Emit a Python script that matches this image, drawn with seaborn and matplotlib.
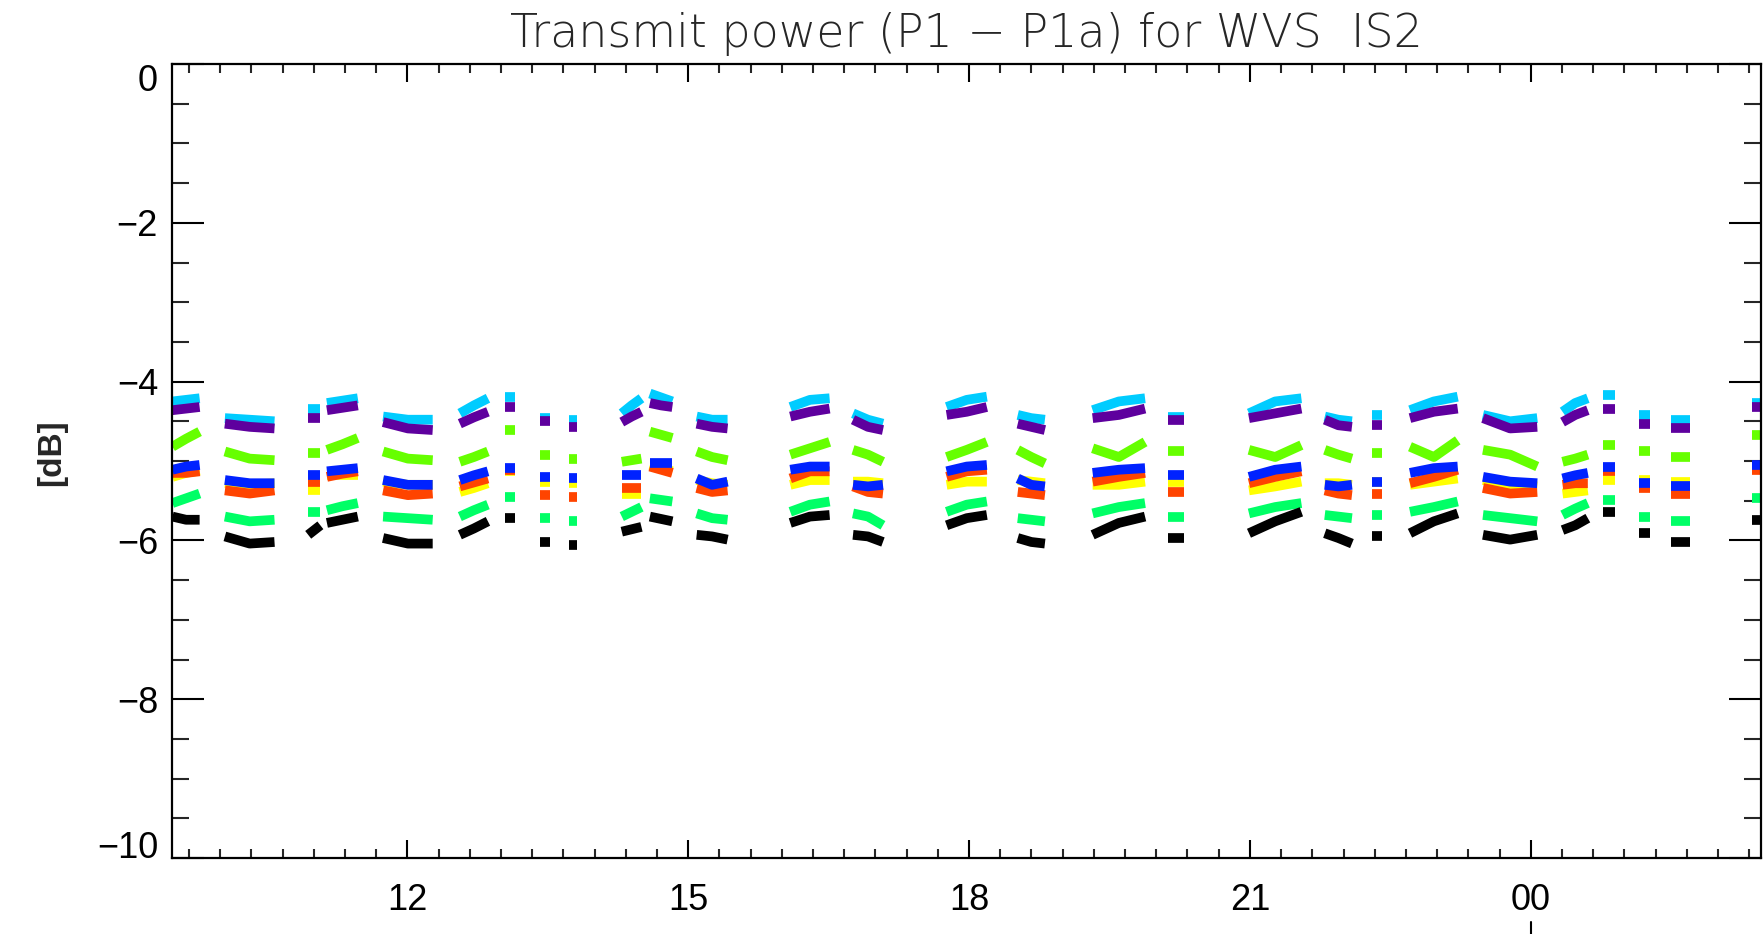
import numpy as np
import pandas as pd
import matplotlib
matplotlib.use("Agg")
import matplotlib.pyplot as plt
import matplotlib.transforms as mtransforms
from matplotlib.ticker import MultipleLocator
import seaborn as sns

# ---------------- data ----------------
title = "Transmit power (P1 \u2212 P1a) for WVS  IS2"
y_label = "[dB]"
x_tick_pos = [12, 15, 18, 21, 24]
x_tick_labels = ["12", "15", "18", "21", "00"]
y_tick_pos = [0, -2, -4, -6, -8, -10]
y_tick_labels = ["0", "\u22122", "\u22124", "\u22126", "\u22128", "\u221210"]

# segment start / end times (hours since 00 of first day)
seg_t0 = [9.49, 10.05, 10.94, 11.14, 11.74, 12.56, 13.04, 13.42, 13.73, 14.29,
          14.59, 15.09, 16.09, 16.76, 17.76, 18.52, 19.32, 20.12, 20.99, 21.80,
          22.30, 22.71, 23.49, 24.34, 24.77, 25.16, 25.50, 26.36]
seg_t1 = [9.78, 10.58, 11.07, 11.47, 12.27, 12.86, 13.15, 13.52, 13.81, 14.50,
          14.83, 15.42, 16.51, 17.08, 18.19, 18.81, 19.88, 20.30, 21.55, 22.09,
          22.41, 23.22, 24.07, 24.61, 24.90, 25.27, 25.70, 26.47]

cyan_vals = [[-4.25, -4.23, -4.21], [-4.46, -4.48, -4.50], [-4.34], [-4.27, -4.24, -4.21],
             [-4.44, -4.48, -4.48], [-4.40, -4.30, -4.21], [-4.19], [-4.46], [-4.48],
             [-4.40, -4.30, -4.21], [-4.15, -4.20, -4.25], [-4.44, -4.48, -4.48],
             [-4.32, -4.23, -4.21], [-4.40, -4.48, -4.53], [-4.32, -4.23, -4.19],
             [-4.42, -4.46, -4.48], [-4.36, -4.25, -4.21], [-4.44], [-4.40, -4.25, -4.21],
             [-4.44, -4.48, -4.50], [-4.42], [-4.36, -4.25, -4.19], [-4.42, -4.50, -4.46],
             [-4.38, -4.27, -4.21], [-4.17], [-4.42], [-4.48], [-4.27]]
purple_vals = [[-4.36, -4.34, -4.32], [-4.53, -4.57, -4.59], [-4.46], [-4.36, -4.33, -4.30],
               [-4.51, -4.59, -4.61], [-4.53, -4.45, -4.38], [-4.32], [-4.50], [-4.57],
               [-4.51, -4.44, -4.38], [-4.27, -4.30, -4.32], [-4.53, -4.57, -4.59],
               [-4.44, -4.38, -4.34], [-4.48, -4.57, -4.61], [-4.42, -4.38, -4.32],
               [-4.53, -4.57, -4.61], [-4.46, -4.42, -4.34], [-4.48], [-4.46, -4.40, -4.34],
               [-4.48, -4.55, -4.57], [-4.55], [-4.46, -4.38, -4.34], [-4.46, -4.59, -4.57],
               [-4.51, -4.42, -4.36], [-4.34], [-4.53], [-4.59], [-4.32]]
green_vals = [[-4.82, -4.72, -4.63], [-4.88, -4.97, -4.99], [-4.90], [-4.86, -4.79, -4.71],
              [-4.88, -4.97, -4.99], [-5.01, -4.95, -4.88], [-4.61], [-4.92], [-4.97],
              [-5.01, -4.99, -4.97], [-4.63, -4.67, -4.71], [-4.88, -4.95, -4.99],
              [-4.92, -4.84, -4.76], [-4.86, -4.92, -5.01], [-4.95, -4.86, -4.76],
              [-4.86, -4.95, -5.03], [-4.84, -4.95, -4.76], [-4.88], [-4.86, -4.95, -4.80],
              [-4.86, -4.92, -4.97], [-4.90], [-4.82, -4.95, -4.74], [-4.86, -4.92, -5.07],
              [-5.01, -4.97, -4.92], [-4.80], [-4.88], [-4.95], [-4.67]]
blue_vals = [[-5.11, -5.07, -5.05], [-5.24, -5.28, -5.28], [-5.18], [-5.13, -5.11, -5.09],
             [-5.24, -5.30, -5.30], [-5.24, -5.18, -5.13], [-5.09], [-5.20], [-5.22],
             [-5.18], [-5.03], [-5.22, -5.30, -5.26], [-5.11, -5.07, -5.07],
             [-5.30, -5.32, -5.30], [-5.13, -5.07, -5.05], [-5.22, -5.30, -5.32],
             [-5.15, -5.11, -5.09], [-5.18], [-5.20, -5.11, -5.07], [-5.30, -5.32, -5.30],
             [-5.26], [-5.15, -5.09, -5.07], [-5.20, -5.26, -5.28], [-5.22, -5.18, -5.15],
             [-5.07], [-5.28], [-5.32], [-5.05]]
red_vals = [[-5.15, -5.15, -5.13], [-5.37, -5.41, -5.37], [-5.26], [-5.20, -5.16, -5.13],
            [-5.37, -5.43, -5.41], [-5.32, -5.27, -5.22], [-5.11], [-5.43], [-5.45],
            [-5.34], [-5.07, -5.11, -5.15], [-5.34, -5.39, -5.37], [-5.22, -5.13, -5.13],
            [-5.32, -5.39, -5.41], [-5.20, -5.13, -5.11], [-5.39, -5.41, -5.43],
            [-5.26, -5.20, -5.15], [-5.39], [-5.28, -5.20, -5.13], [-5.37, -5.41, -5.43],
            [-5.41], [-5.28, -5.20, -5.11], [-5.34, -5.41, -5.39], [-5.30, -5.28, -5.28],
            [-5.13], [-5.34], [-5.41], [-5.11]]
yellow_vals = [[-5.20, -5.15, -5.12], [-5.28, -5.30, -5.28], [-5.37], [-5.18],
               [-5.26, -5.30, -5.30], [-5.39, -5.34, -5.28], [-5.13], [-5.26], [-5.28],
               [-5.41], [-5.05, -5.09, -5.13], [-5.24, -5.28, -5.30], [-5.30, -5.24, -5.24],
               [-5.26, -5.26, -5.28], [-5.30, -5.26, -5.26], [-5.24, -5.26, -5.28],
               [-5.30, -5.30, -5.26], [-5.26], [-5.37, -5.32, -5.26], [-5.28, -5.28, -5.30],
               [-5.26], [-5.30, -5.26, -5.22], [-5.24, -5.30, -5.32], [-5.41, -5.39, -5.37],
               [-5.24], [-5.24], [-5.26], [-5.07]]
springgreen_vals = [[-5.53, -5.47, -5.41], [-5.70, -5.76, -5.74], [-5.64], [-5.62, -5.57, -5.53],
                    [-5.70, -5.72, -5.74], [-5.70, -5.62, -5.55], [-5.45], [-5.72], [-5.76],
                    [-5.70, -5.64, -5.58], [-5.47, -5.49, -5.51], [-5.66, -5.72, -5.74],
                    [-5.64, -5.55, -5.51], [-5.66, -5.70, -5.81], [-5.64, -5.55, -5.51],
                    [-5.72, -5.74, -5.76], [-5.66, -5.58, -5.53], [-5.70], [-5.66, -5.58, -5.53],
                    [-5.68, -5.70, -5.72], [-5.68], [-5.64, -5.58, -5.51], [-5.68, -5.72, -5.76],
                    [-5.68, -5.60, -5.53], [-5.49], [-5.70], [-5.76], [-5.47]]
black_vals = [[-5.70, -5.74, -5.74], [-5.95, -6.04, -6.02], [-5.93, -5.87, -5.81],
              [-5.78, -5.74, -5.70], [-5.97, -6.04, -6.04], [-5.93, -5.85, -5.76], [-5.72],
              [-6.02], [-6.06], [-5.89, -5.86, -5.83], [-5.70, -5.73, -5.76],
              [-5.93, -5.95, -5.99], [-5.78, -5.70, -5.68], [-5.93, -5.95, -6.02],
              [-5.81, -5.72, -5.68], [-5.97, -6.02, -6.04], [-5.93, -5.78, -5.70], [-5.97],
              [-5.91, -5.76, -5.64], [-5.91, -5.97, -6.04], [-5.95], [-5.91, -5.76, -5.66],
              [-5.93, -5.99, -5.93], [-5.87, -5.81, -5.72], [-5.64], [-5.91], [-6.02], [-5.74]]

series_names = ["cyan", "purple", "green", "yellow", "red", "blue", "springgreen", "black"]
series_vals = {"cyan": cyan_vals, "purple": purple_vals, "green": green_vals,
               "yellow": yellow_vals, "red": red_vals, "blue": blue_vals,
               "springgreen": springgreen_vals, "black": black_vals}
palette = {"cyan": "#00CCFF", "purple": "#5E009E", "green": "#66FF00",
           "yellow": "#FFFF00", "red": "#FF4400", "blue": "#0022FF",
           "springgreen": "#00FF66", "black": "#000000"}

rows = []
for name in series_names:
    for k, vals in enumerate(series_vals[name]):
        t0, t1 = seg_t0[k], seg_t1[k]
        if len(vals) == 3:
            ts = [t0, (t0 + t1) / 2, t1]
            vs = vals
        else:
            ts = [t0, t1]
            vs = [vals[0], vals[0]]
        for t, v in zip(ts, vs):
            rows.append({"hour": t, "value": v, "series": name, "segment": f"{name}_{k}"})
df = pd.DataFrame(rows)

# ---------------- plot ----------------
sns.set_theme(style="white")
plt.rcParams["font.family"] = ["DejaVu Sans"]

fig = plt.figure(figsize=(17.65, 9.34), dpi=100)
ax = fig.add_axes([172 / 1765, 76 / 934, (1761 - 172) / 1765, (858 - 64) / 934])

sns.lineplot(data=df, x="hour", y="value", hue="series", units="segment",
             estimator=None, hue_order=series_names, palette=palette, sort=False,
             legend=False, linewidth=7, solid_capstyle="butt",
             solid_joinstyle="round", ax=ax)

ax.set_xlim(9.485, 26.46)
ax.set_ylim(-10, 0)
ax.set_xlabel("")
ax.set_ylabel(y_label, fontsize=24, fontweight="bold",
              family=["Liberation Sans", "DejaVu Sans"])
ax.yaxis.set_label_coords(-0.066, 0.51)

for sp in ax.spines.values():
    sp.set_visible(True)
    sp.set_color("black")
    sp.set_linewidth(1.6)

tick_font = dict(fontsize=26, family=["Liberation Sans", "DejaVu Sans"])
ax.set_xticks(x_tick_pos)
ax.set_xticklabels(x_tick_labels, **tick_font)
ax.set_yticks(y_tick_pos)
ax.set_yticklabels(y_tick_labels, **tick_font)
ax.xaxis.set_minor_locator(MultipleLocator(1 / 3))
ax.yaxis.set_minor_locator(MultipleLocator(0.5))

ax.tick_params(axis="x", which="major", direction="in", length=13, width=1.5,
               top=True, bottom=True, pad=18, colors="black")
ax.tick_params(axis="x", which="minor", direction="in", length=6.5, width=1.5,
               top=True, bottom=True)
ax.tick_params(axis="y", which="major", direction="in", length=23, width=1.5,
               left=True, right=True, pad=10, colors="black")
ax.tick_params(axis="y", which="minor", direction="in", length=12, width=1.5,
               left=True, right=True)

for lab in ax.get_yticklabels():
    txt = lab.get_text()
    if txt == "0":
        lab.set_verticalalignment("top")
    elif txt == "\u221210":
        lab.set_verticalalignment("baseline")
    else:
        lab.set_verticalalignment("center_baseline")

ax.set_title(title, fontsize=33, pad=12, family=["DejaVu Sans"], fontweight="light")

# day-change marker below the "00" label
trans = mtransforms.blended_transform_factory(ax.transData, fig.transFigure)
ax.plot([24, 24], [0.0, 12 / 934], color="black", lw=1.5, transform=trans,
        clip_on=False)

ax.grid(False)
fig.savefig("out.png", dpi=100, facecolor="white")
